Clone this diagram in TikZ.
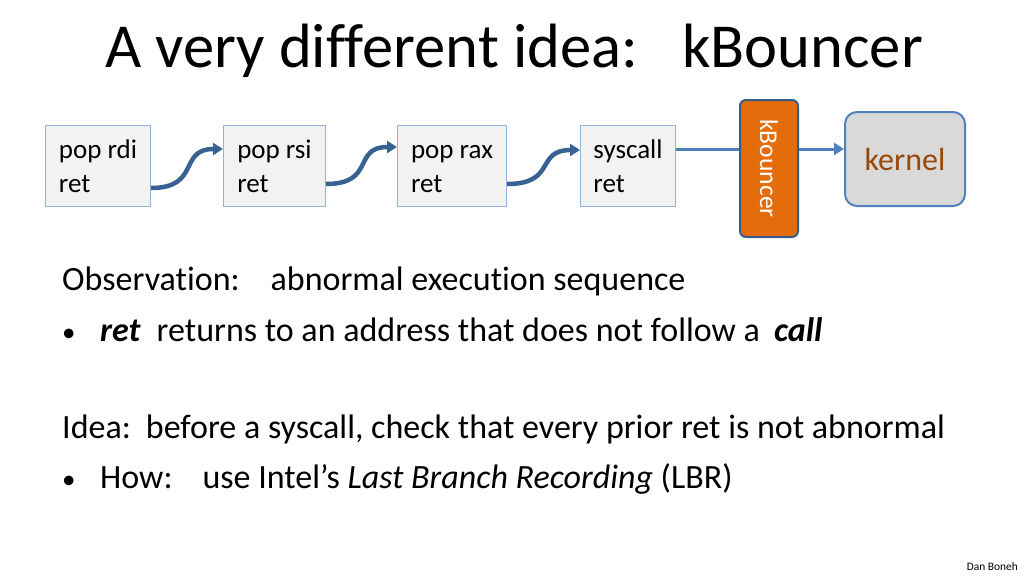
\documentclass[tikz,border=0pt]{standalone}
\usepackage{fontspec}
\setmainfont[Ligatures=NoCommon]{Carlito}
\usetikzlibrary{arrows.meta}

\definecolor{boxline}{RGB}{149,179,215}
\definecolor{boxfill}{RGB}{242,242,242}
\definecolor{hopblue}{RGB}{56,98,145}
\definecolor{linkblue}{RGB}{79,129,189}
\definecolor{kborange}{RGB}{228,108,10}
\definecolor{kbline}{RGB}{56,93,138}
\definecolor{kernfill}{RGB}{217,217,217}
\definecolor{kerntext}{RGB}{152,72,7}

\newcommand{\dotmark}{\makebox[38pt][l]{\fontsize{27}{34}\selectfont •}}

\begin{document}
\begin{tikzpicture}[x=1pt,y=-1pt,
    gadget/.style={draw=boxline, fill=boxfill, line width=1pt, anchor=north west,
        inner sep=0pt, align=left, minimum height=81pt,
        font=\fontsize{27}{34}\selectfont},
    hop/.style={draw=hopblue, line width=4.5pt, -{Triangle[length=10pt,width=12pt]}},
    link/.style={draw=linkblue, line width=3pt},
    says/.style={anchor=base west, inner sep=0pt, font=\fontsize{34}{40}\selectfont}]
    \useasboundingbox (0,0) rectangle (1024,576);

    % title
    \node[anchor=base west, inner sep=0pt, font=\fontsize{62.6}{70}\selectfont] (title) at (105,67)
        {A very different idea:\hspace{44pt}kBouncer};

    % the rop chain
    \node[gadget, minimum width=105pt] (rdi) at (45,125) {\vphantom{d}pop rdi\\ret};
    \node[gadget, minimum width=102pt] (rsi) at (223,125) {\vphantom{d}pop rsi\\ret};
    \node[gadget, minimum width=109pt] (rax) at (397,125) {\vphantom{d}pop rax\\ret};
    \node[gadget, minimum width=95pt] (sys) at (580,125) {\vphantom{d}syscall\\ret};

    \node[draw=kbline, fill=kborange, line width=2pt, rounded corners=6pt,
        minimum width=58pt, minimum height=137pt, inner sep=0pt, text=white,
        font=\fontsize{25.6}{30}\selectfont] (kb) at (769,168.5) {\rotatebox{-90}{kBouncer}};
    \node[draw=linkblue, fill=kernfill, line width=2pt, rounded corners=12pt,
        minimum width=120pt, minimum height=94pt, text=kerntext,
        font=\fontsize{32}{38}\selectfont] (kern) at (905,159) {kernel};

    \draw[hop] ([yshift=-22pt]rdi.east) .. controls +(50,0) and +(-45,0) .. ([yshift=17pt]rsi.west);
    \draw[hop] ([yshift=-18pt]rsi.east) .. controls +(50,0) and +(-45,0) .. ([yshift=19pt]rax.west);
    \draw[hop] ([yshift=-18pt]rax.east) .. controls +(50,0) and +(-45,0) .. ([yshift=16pt]sys.west);

    \coordinate (tap) at ([yshift=17pt]sys.east);
    \draw[link] (tap) -- (tap -| kb.west);
    \draw[link, -{Triangle[length=10pt,width=12pt]}] (tap -| kb.east) -- (tap -| kern.west);

    % the text
    \node[says] (obs) at (62,290) {Observation:\hspace{31pt}abnormal execution sequence};
    \node[says] (obs1) at (62,341) {\dotmark\textbf{\textit{ret}}\hspace{16pt}returns to an address that does not follow a\hspace{14pt}\textbf{\textit{call}}};
    \node[says] (idea) at (62,438) {Idea:\hspace{15pt}before a syscall, check that every prior ret is not abnormal};
    \node[says] (idea1) at (62,488) {\dotmark How:\hspace{30pt}use Intel’s \textit{Last Branch Recording} (LBR)};

    \node[anchor=base east, inner sep=0pt, font=\fontsize{11.4}{13}\selectfont] (who) at (1018,570) {Dan Boneh};
\end{tikzpicture}
\end{document}
